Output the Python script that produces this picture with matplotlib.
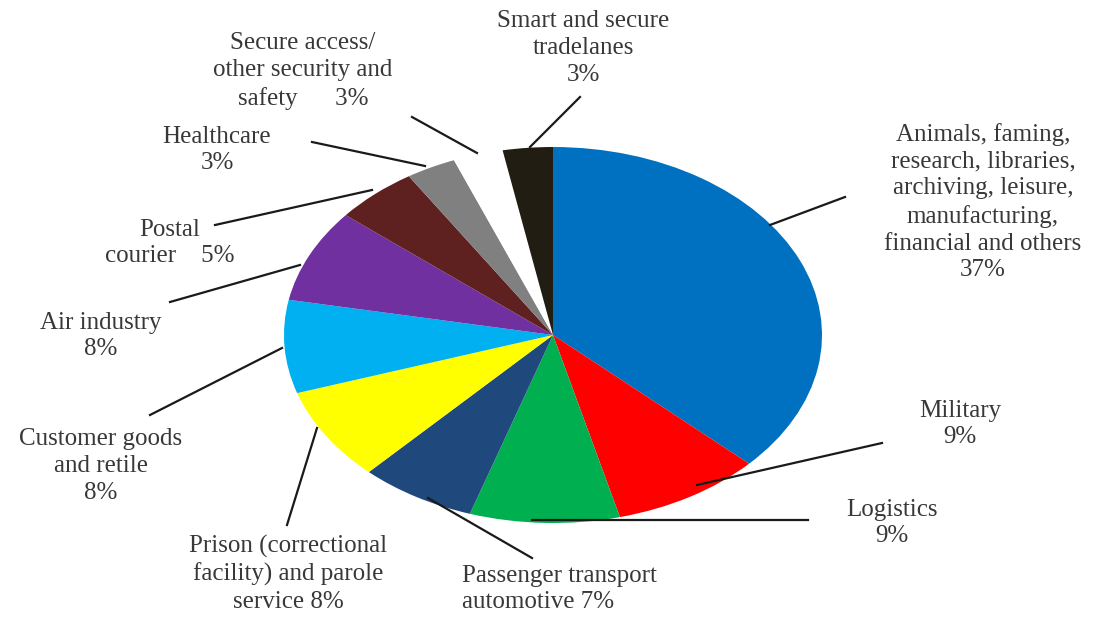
import matplotlib.pyplot as plt

# Share of applications by sector (%)
sectors = [
    "Animals, faming,\nresearch, libraries,\narchiving, leisure,\nmanufacturing,\nfinancial and others",
    "Military",
    "Logistics",
    "Passenger transport\nautomotive",
    "Prison (correctional\nfacility) and parole\nservice",
    "Customer goods\nand retile",
    "Air industry",
    "Postal\ncourier",
    "Healthcare",
    "Secure access/\nother security and\nsafety",
    "Smart and secure\ntradelanes",
]
shares = [37, 9, 9, 7, 8, 8, 8, 5, 3, 3, 3]
colors = ["#0070C0", "#FF0000", "#00B050", "#1F497D", "#FFFF00", "#00B0F0",
          "#7030A0", "#5F2120", "#808080", "#FFFFFF", "#211D12"]

# how the percentage is joined to each name
joins = ["\n", "\n", "\n", " ", " ", "\n", "\n", "    ", "\n", "      ", "\n"]

# label placement in pixels: text anchor, leader line (outer end, inner end)
text_pos = [(983, 202), (960, 424), (892, 523), (462, 589), (288, 574),
            (101, 466), (101, 336), (170, 243), (217, 150), (303, 71), (583, 48)]
text_ha = ["center"] * 3 + ["left"] + ["center"] * 7
leaders = [((845, 197), (770, 225)), ((882, 443), (697, 485)),
           ((808, 520), (532, 520)), ((532, 558), (428, 498)),
           ((287, 525), (317, 428)), ((150, 415), (282, 348)),
           ((170, 302), (300, 265)), ((215, 225), (372, 190)),
           ((312, 142), (425, 166)), ((412, 117), (477, 153)),
           ((580, 97), (530, 147))]

W, H = 1102, 617
cx, cy, rx, ry = 553, 335, 269, 188

plt.rcParams['font.family'] = ['Liberation Serif', 'DejaVu Serif']

fig = plt.figure(figsize=(W / 100, H / 100), dpi=100)
ax = fig.add_axes([(cx - rx) / W, (H - cy - ry) / H, 2 * rx / W, 2 * ry / H])
ax.pie(shares, colors=colors, startangle=90, counterclock=False, radius=1,
       wedgeprops=dict(linewidth=0))
ax.set_xlim(-1, 1)
ax.set_ylim(-1, 1)
ax.set_aspect('auto')
ax.axis('off')


def to_data(p):
    return (p[0] - cx) / rx, (cy - p[1]) / ry


for name, pct, j, pos, ha, (a, b) in zip(sectors, shares, joins, text_pos, text_ha, leaders):
    x, y = to_data(pos)
    ax.text(x, y, f"{name}{j}{pct}%", ha=ha, va='center', multialignment=ha,
            fontsize=18, color='#383838', linespacing=1.29)
    (x0, y0), (x1, y1) = to_data(a), to_data(b)
    ax.plot([x0, x1], [y0, y1], color='#1a1a1a', lw=1.6, clip_on=False)

fig.savefig('out.png', dpi=100, facecolor='white')
